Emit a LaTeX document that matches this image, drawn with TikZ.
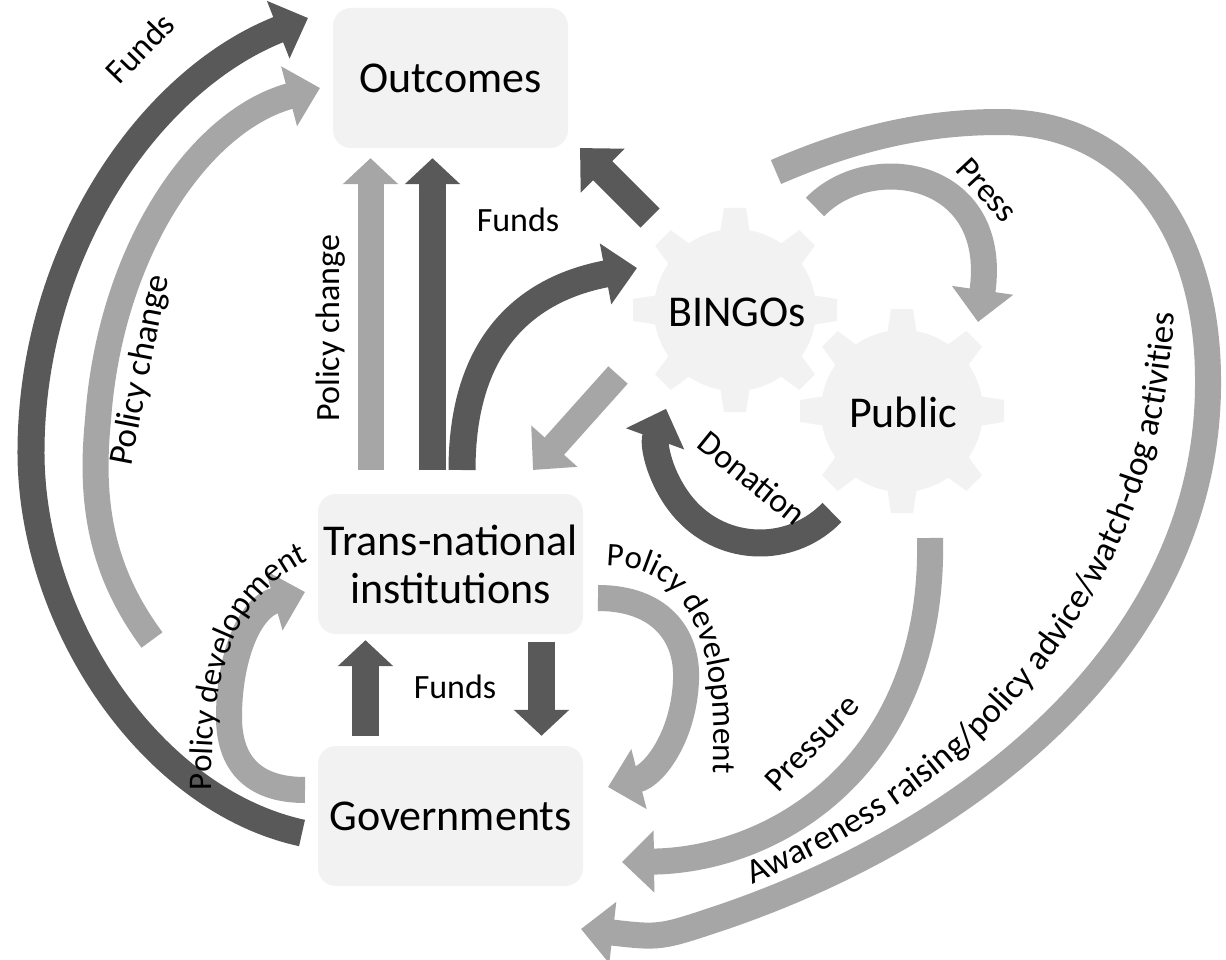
\documentclass[tikz,border=0pt]{standalone}
\usepackage{fontspec}
\setmainfont{Carlito}
\usetikzlibrary{arrows.meta,decorations.text}
\definecolor{dk}{HTML}{595959}
\definecolor{lt}{HTML}{A6A6A6}
\definecolor{bx}{HTML}{F2F2F2}
\newcommand\bigfont{\fontsize{44}{48}\selectfont}
\newcommand\lblfont{\fontsize{34}{36}\selectfont}
\newcommand\arcfont{\fontsize{33}{35}\selectfont}
\newcommand\awfont{\fontsize{35}{37}\selectfont}
\begin{document}
\begin{tikzpicture}[x=1pt,y=1pt,
  box/.style={fill=bx, rounded corners=18pt, minimum width=265pt, minimum height=140pt, align=center, font=\bigfont, inner sep=0pt},
  gearlbl/.style={font=\bigfont, inner sep=0pt},
  lbl/.style={font=\lblfont, inner sep=0pt},
  dkarrow/.style={draw=dk, line width=27pt, -{Triangle[width=60pt,length=32pt]}},
  ltarrow/.style={draw=lt, line width=26pt, -{Triangle[width=60pt,length=32pt]}},
  dkstraight/.style={draw=dk, line width=27pt, -{Triangle[width=54pt,length=26pt]}},
  ltstraight/.style={draw=lt, line width=26pt, -{Triangle[width=54pt,length=26pt]}},
  arclbl/.style={decorate, decoration={text along path, text align=left}}
]
\useasboundingbox (0,0) rectangle (1226,-960);
\fill[white] (0,0) rectangle (1226,-960);

% boxes
\node[box, minimum width=235pt] (out) at (450.5,-78) {Outcomes};
\node[box] (trans) at (450.5,-564) {Trans-national\\institutions};
\node[box] (gov) at (450.5,-816) {Governments};

% gears
\foreach \cx/\cy in {735/-310, 902/-411}{
  \begin{scope}[shift={(\cx,\cy)}]
    \fill[bx] (0,0) circle[radius=81];
    \foreach \a in {0,45,...,315}
      \fill[bx, rotate=\a] (-15,76) -- (-11,102) -- (11,102) -- (15,76) -- cycle;
  \end{scope}
}
\node[gearlbl] (bingo) at (737,-312) {BINGOs};
\node[gearlbl] (pub) at (903,-412) {Public};

% named arrow ends
\coordinate (fL0) at (302,-833);
\coordinate (fL1) at (308,-18);
\coordinate (pcL0) at (152,-640);
\coordinate (pcL1) at (320,-88);
\coordinate (pdL0) at (305,-790);
\coordinate (pdL1) at (305,-592);
\coordinate (pdR0) at (598,-598);
\coordinate (pdR1) at (608,-787);
\coordinate (fB0) at (462,-470);
\coordinate (fB1) at (637,-268);
\coordinate (bo0) at (650,-218);
\coordinate (bo1) at (580,-148);
\coordinate (bt0) at (618,-375);
\coordinate (bt1) at (533,-470);
\coordinate (pr0) at (815,-207);
\coordinate (pr1) at (978,-322);
\coordinate (ps0) at (930,-538);
\coordinate (ps1) at (622,-862);
\coordinate (aw0) at (776,-172);
\coordinate (aw1) at (581,-929);
\coordinate (donc) at (760,-443);

% left big arcs
\draw[dkarrow] (fL0) .. controls (150,-800) and (30,-620) .. (31,-450)
               .. controls (32,-250) and (150,-80) .. (fL1);
\draw[ltarrow] (pcL0) .. controls (100,-570) and (90,-500) .. (98,-420)
               .. controls (110,-250) and (200,-120) .. (pcL1);

% left small policy development arc
\draw[ltarrow] (pdL0) .. controls (250,-790) and (229,-760) .. (229,-717)
               .. controls (229,-660) and (248,-608) .. (pdL1);
% right small policy development arc
\draw[ltarrow] (pdR0) .. controls (660,-598) and (688,-635) .. (686,-680)
               .. controls (684,-735) and (655,-775) .. (pdR1);

% vertical arrows to outcomes
\draw[ltstraight] ([xshift=-80pt,yshift=24pt]trans.north) -- ([xshift=-80pt,yshift=-10pt]out.south);
\draw[dkstraight] ([xshift=-18pt,yshift=24pt]trans.north) -- ([xshift=-18pt,yshift=-10pt]out.south);

% funds between trans and gov
\draw[dkstraight] ([xshift=-85pt,yshift=10pt]gov.north) -- ([xshift=-85pt,yshift=-6pt]trans.south);
\draw[dkstraight] ([xshift=91pt,yshift=-8pt]trans.south) -- ([xshift=91pt,yshift=10pt]gov.north);

% trans -> BINGOs funds
\draw[dkarrow] (fB0) .. controls (462,-350) and (520,-290) .. (fB1);
% BINGOs -> outcomes
\draw[dkarrow] (bo0) -- (bo1);
% BINGOs -> trans
\draw[ltarrow] (bt0) -- (bt1);

% donation
\draw[dkarrow] (donc) ++(-44:100) arc[start angle=-44, end angle=-200, radius=100];

% press
\draw[ltarrow] (pr0) .. controls (870,-150) and (1000,-170) .. (pr1);
% pressure
\draw[ltarrow] (ps0) .. controls (935,-760) and (780,-860) .. (ps1);
% awareness
\draw[ltarrow] (aw0) .. controls (850,-140) and (920,-122) .. (1000,-122)
               .. controls (1130,-122) and (1208,-230) .. (1208,-380)
               .. controls (1210,-640) and (980,-830) .. (720,-918)
               .. controls (660,-938) .. (aw1);

% labels
\node[lbl, rotate=46] (lfunds) at (140,-48) {Funds};
\node[lbl, rotate=79, font=\fontsize{35}{37}\selectfont] (lpc) at (141,-370) {Policy change};
\node[lbl, rotate=90] (mpc) at (331,-328) {Policy change};
\node[lbl] (mfunds) at (518,-220) {Funds};
\node[lbl] (gfunds) at (455,-687) {Funds};
\node[lbl, rotate=-47] (lpress) at (987,-190) {Press};
\node[lbl, rotate=46] (lpressure) at (812,-743) {Pressure};
\node[lbl, rotate=-39] (ldon) at (752,-478) {Donation};

\path[arclbl, decoration={text={|\arcfont|Policy development}}]
  (212,-790) .. controls (210,-650) and (245,-575) .. (340,-550);
\path[arclbl, decoration={text={|\arcfont|Policy development}}]
  (606,-566) .. controls (690,-566) and (722,-640) .. (712,-800);
\path[arclbl, decoration={text={|\awfont|Awareness raising/policy advice/watch-dog activities}}]
  (752,-884) .. controls (960,-800) and (1175,-600) .. (1175,-280);
\end{tikzpicture}
\end{document}
